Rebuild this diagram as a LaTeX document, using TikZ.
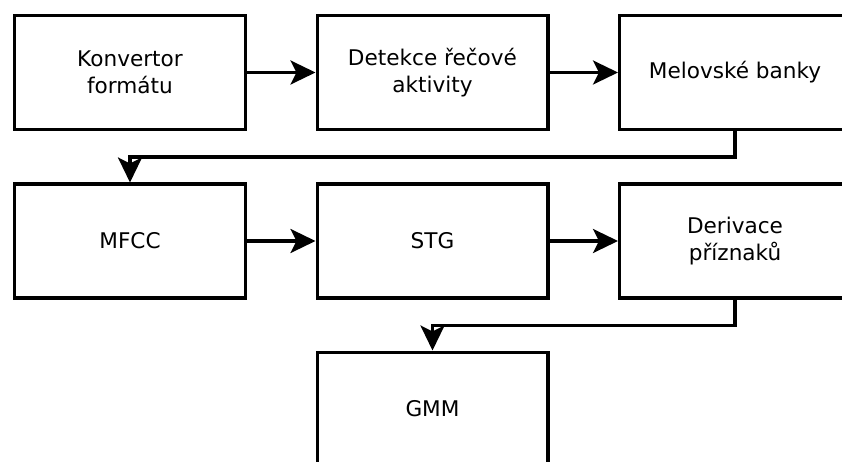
\documentclass[tikz,border=0pt]{standalone}
\usepackage{fontspec}
\setmainfont{DejaVu Sans}
\usetikzlibrary{arrows.meta}
\begin{document}
\begin{tikzpicture}[x=1pt,y=-1pt,
  blk/.style={draw=black, line width=3.4pt, fill=white, minimum width=230.6pt, minimum height=113.6pt,
    inner sep=0pt, align=center, font=\fontsize{21.6pt}{26.5pt}\selectfont},
  arr/.style={line width=3.2pt, -{Stealth[length=25pt,width=24pt,inset=6pt]}}]
\useasboundingbox (0,0) rectangle (842,462);
\node[blk] (b1) at (130,72.5) {Konvertor\\formátu};
\node[blk] (b2) at (432.5,72.5) {Detekce řečové\\aktivity};
\node[blk] (b3) at (735,72.5) {Melovské banky};
\node[blk] (b4) at (130,241) {MFCC};
\node[blk] (b5) at (432.5,241) {STG};
\node[blk] (b6) at (735,241) {Derivace\\příznaků};
\node[blk] (b7) at (432.5,409) {GMM};
\draw[arr] (b1) -- (b2);
\draw[arr] (b2) -- (b3);
\draw[arr] (b4) -- (b5);
\draw[arr] (b5) -- (b6);
\draw[arr] (b3.south) -- ++(0,26) -| (b4.north);
\draw[arr] (b6.south) -- ++(0,26) -| (b7.north);
\end{tikzpicture}
\end{document}
